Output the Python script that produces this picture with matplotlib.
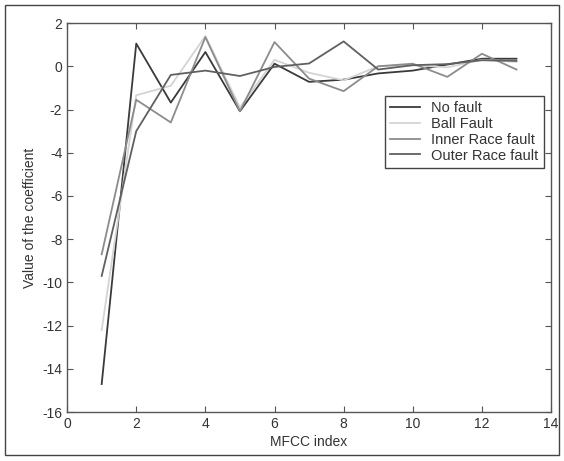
import matplotlib
matplotlib.use('Agg')
import matplotlib.pyplot as plt
from matplotlib.patches import Rectangle

plt.rcParams['font.family'] = ['Liberation Sans', 'DejaVu Sans']
plt.rcParams['axes.unicode_minus'] = False

# MFCC coefficients per bearing condition
mfcc_index = [1, 2, 3, 4, 5, 6, 7, 8, 9, 10, 11, 12, 13]
no_fault = [-14.7, 1.05, -1.68, 0.66, -2.08, 0.12, -0.72, -0.62, -0.33, -0.2, 0.08, 0.35, 0.35]
ball_fault = [-12.2, -1.34, -0.9, 1.4, -1.9, 0.3, -0.3, -0.65, 0.0, 0.05, -0.05, 0.3, 0.2]
inner_race = [-8.7, -1.55, -2.6, 1.35, -2.08, 1.12, -0.57, -1.15, 0.0, 0.12, -0.49, 0.58, -0.15]
outer_race = [-9.7, -3.0, -0.4, -0.2, -0.45, -0.03, 0.13, 1.15, -0.15, 0.05, 0.1, 0.28, 0.25]

series = [
	('No fault', no_fault, '#3a3a3a'),
	('Ball Fault', ball_fault, '#d4d4d4'),
	('Inner Race fault', inner_race, '#8c8c8c'),
	('Outer Race fault', outer_race, '#606060'),
]

fig = plt.figure(figsize=(5.64, 4.61), dpi=100)
ax = fig.add_axes([0.119, 0.106, 0.858, 0.844])

for label, values, color in series:
	ax.plot(mfcc_index, values, color=color, linewidth=1.3, label=label)

ax.set_xlim(0, 14)
ax.set_ylim(-16, 2)
ax.set_xticks(range(0, 15, 2))
ax.set_yticks(range(-16, 3, 2))
ax.tick_params(direction='in', top=True, right=True, length=4, labelsize=10,
	colors='#555555', labelcolor='#333333')
for spine in ax.spines.values():
	spine.set_color('#555555')
	spine.set_linewidth(1.0)

ax.set_xlabel('MFCC index', fontsize=10, color='#333333', labelpad=3)
ax.set_ylabel('Value of the coefficient', fontsize=10, color='#333333', labelpad=4)

leg = ax.legend(loc='upper right', bbox_to_anchor=(0.985, 0.812), fontsize=10.5,
	fancybox=False, framealpha=1, edgecolor='#444444', handlelength=2.1,
	handletextpad=0.75, labelspacing=0.12, borderpad=0.35, borderaxespad=0)
leg.get_frame().set_linewidth(1.0)
for text in leg.get_texts():
	text.set_color('#333333')

# thin frame around the whole figure
fig.patches.append(Rectangle((0.009, 0.012), 0.982, 0.977, transform=fig.transFigure,
	fill=False, edgecolor='#444444', linewidth=1.0))

fig.savefig('out.png', dpi=100)
